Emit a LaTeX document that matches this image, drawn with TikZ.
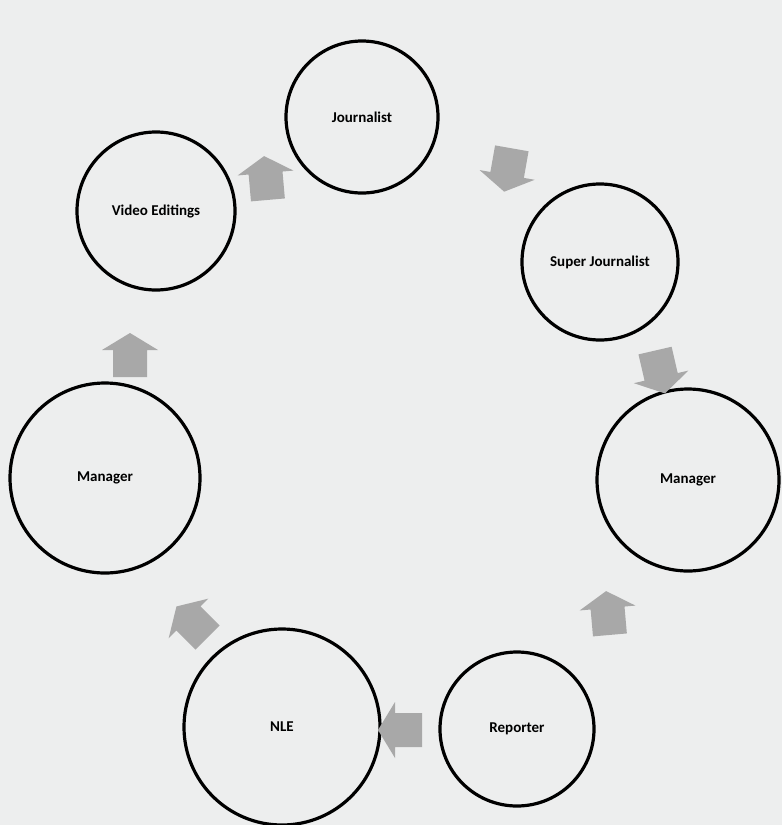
\documentclass[tikz,border=0pt]{standalone}
\usepackage{fontspec}
\setmainfont{Carlito}
\definecolor{bgc}{HTML}{EDEEEE}
\definecolor{arrc}{HTML}{A8A8A8}
\tikzset{
  stage/.style={circle, draw=black, line width=3.2pt, inner sep=0pt, font=\bfseries\fontsize{15}{17}\selectfont},
  blockarr/.pic={\fill[arrc] (22,0) -- (5,28) -- (5,17) -- (-22,17) -- (-22,-17) -- (5,-17) -- (5,-28) -- cycle;}
}
\begin{document}
\begin{tikzpicture}[x=1pt,y=-1pt]
\fill[bgc] (0,0) rectangle (782,825);
\useasboundingbox (0,0) rectangle (782,825);
\node[stage, minimum size=152pt] (jour) at (362,117) {Journalist};
\node[stage, minimum size=156pt] (super) at (600,262) {Super Journalist};
\node[stage, minimum size=182pt] (manr) at (688,480) {Manager};
\node[stage, minimum size=154pt] (rep) at (517,729) {Reporter};
\node[stage, minimum size=196pt] (nle) at (282,727) {NLE};
\node[stage, minimum size=190pt] (manl) at (105,478) {Manager};
\node[stage, minimum size=158pt] (vid) at (156,211) {Video Editings};
\pic[rotate=95] at (266,178) {blockarr};
\pic[rotate=-100] at (508,170) {blockarr};
\pic[rotate=-77] at (660,372) {blockarr};
\pic[rotate=95] at (608,613) {blockarr};
\pic[rotate=180] at (400,730) {blockarr};
\pic[rotate=135] at (192,622) {blockarr};
\pic[rotate=90] at (130,355) {blockarr};
\end{tikzpicture}
\end{document}
